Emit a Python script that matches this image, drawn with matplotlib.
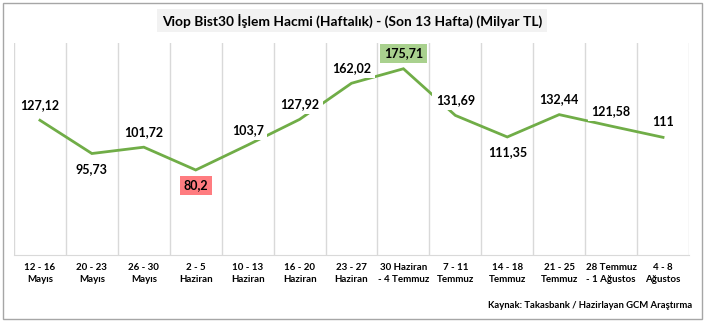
import matplotlib
matplotlib.use("Agg")
import matplotlib.pyplot as plt
from matplotlib.patches import Rectangle
import numpy as np

plt.rcParams["font.family"] = ["Lato", "DejaVu Sans"]

weeks = [
    "12 - 16\nMayıs", "20 - 23\nMayıs", "26 - 30\nMayıs", "2 - 5\nHaziran",
    "10 - 13\nHaziran", "16 - 20\nHaziran", "23 - 27\nHaziran",
    "30 Haziran\n- 4 Temmuz", "7 - 11\nTemmuz", "14 - 18\nTemmuz",
    "21 - 25\nTemmuz", "28 Temmuz\n- 1 Ağustos", "4 - 8\nAğustos",
]
volume = [127.12, 95.73, 101.72, 80.2, 103.7, 127.92, 162.02,
          175.71, 131.69, 111.35, 132.44, 121.58, 111]
value_labels = ["127,12", "95,73", "101,72", "80,2", "103,7", "127,92", "162,02",
                "175,71", "131,69", "111,35", "132,44", "121,58", "111"]

# label placement: +1 above the point, -1 below
label_side = [1, -1, 1, -1, 1, 1, 1, 1, 1, -1, 1, 1, 1]

LINE = "#70ad47"
GRID = "#d9d9d9"

W, H = 705, 322
fig, ax = plt.subplots(figsize=(W / 100, H / 100), dpi=100)
fig.subplots_adjust(left=14 / W, right=689 / W, bottom=1 - 255 / H, top=1 - 43 / H)

x = np.arange(len(volume))
ax.plot(x, volume, color=LINE, lw=2, zorder=2, solid_joinstyle="miter")

ax.set_xlim(-0.5, len(volume) - 0.5)
ax.set_ylim(0, 200)
ax.set_yticks([])
ax.set_xticks(x)
ax.set_xticklabels(weeks, fontsize=7, fontweight="bold", linespacing=1.45)
ax.tick_params(axis="x", length=0, pad=6)
ax.set_xticks(np.arange(-0.5, len(volume)), minor=True)
ax.tick_params(axis="x", which="minor", length=0)
ax.grid(True, which="minor", axis="x", color=GRID, lw=1, zorder=0)
for s in ("left", "right", "top"):
    ax.spines[s].set_visible(False)
ax.spines["bottom"].set_color(GRID)

for i, (v, lab, side) in enumerate(zip(volume, value_labels, label_side)):
    fc = "white"
    if i == int(np.argmin(volume)):
        fc = "#ff7c80"
    elif i == int(np.argmax(volume)):
        fc = "#a9d18e"
    ax.annotate(lab, (i, v), xytext=(0, 11 * side), textcoords="offset points",
                ha="center", va="center", fontsize=9, fontweight="bold",
                color="black", zorder=3,
                bbox=dict(boxstyle="square,pad=0.3", fc=fc, ec="none"))

fig.text(352 / W, 1 - 20.5 / H,
         "Viop Bist30 İşlem Hacmi (Haftalık) - (Son 13 Hafta) (Milyar TL)",
         ha="center", va="center", fontsize=9.9, fontweight="bold",
         bbox=dict(boxstyle="square,pad=0.35", fc="#f2f2f2", ec="none"))

fig.text(692 / W, 1 - 305 / H, "Kaynak: Takasbank / Hazirlayan GCM Araştırma",
         ha="right", va="center", fontsize=6.8, fontweight="bold")

fig.patches.append(Rectangle((2.5 / W, 3.5 / H), 699 / W, 316 / H,
                             transform=fig.transFigure, fill=False,
                             ec="#a6a6a6", lw=1))

fig.savefig("out.png", dpi=100)
